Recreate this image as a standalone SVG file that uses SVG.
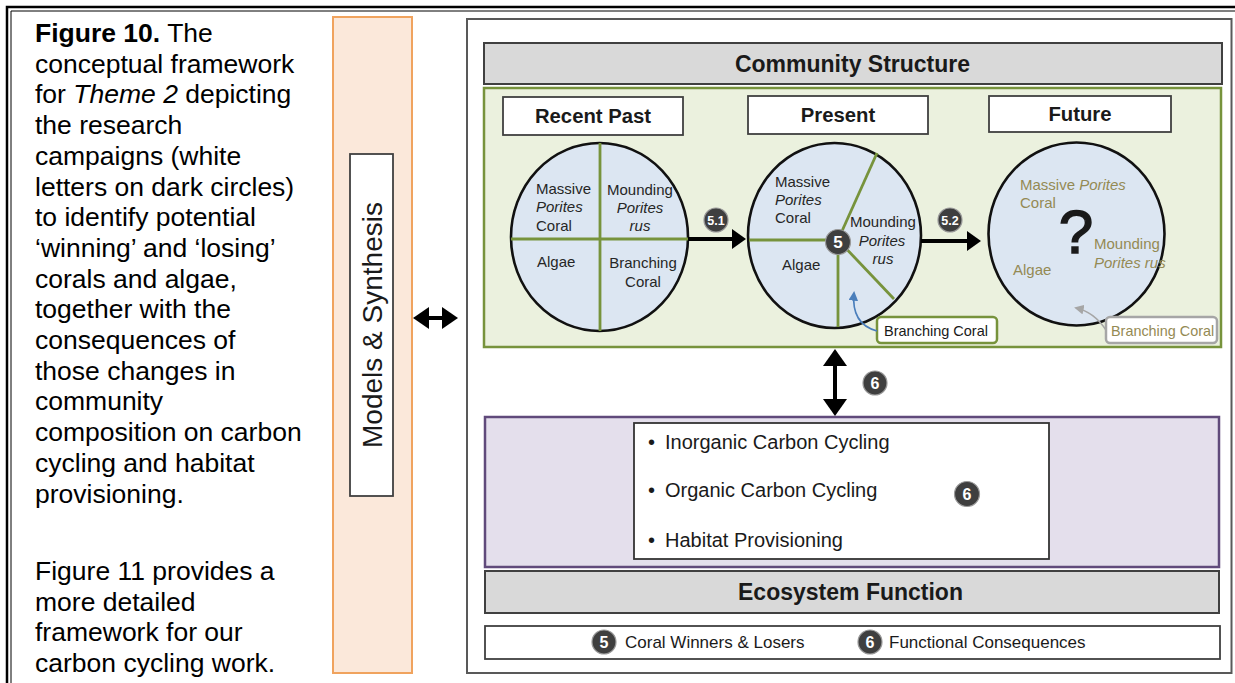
<svg xmlns="http://www.w3.org/2000/svg" width="1235" height="683" viewBox="0 0 1235 683">
<defs>
<style>
text{font-family:"Liberation Sans",Arial,sans-serif;}
.cap{font-size:26.5px;fill:#000;}
.hdr{fill:#d9d9d9;stroke:#404040;stroke-width:2;}
.hdrt{font-size:23px;font-weight:bold;fill:#1a1a1a;text-anchor:middle;}
.tbox{fill:#fff;stroke:#404040;stroke-width:1.8;}
.tboxt{font-size:20.3px;font-weight:bold;fill:#1a1a1a;text-anchor:middle;}
.circ{fill:#dce6f2;stroke:#111;stroke-width:2.6;}
.gl{stroke:#77933c;stroke-width:2.8;fill:none;}
.ct{font-size:15px;fill:#262626;}
.ol{font-size:15px;fill:#948a54;}
.it{font-style:italic;}
.mid{text-anchor:middle;}
.bd{fill:#3f3f3f;stroke:#9a9a9a;stroke-width:1.2;}
.bdt{font-weight:bold;fill:#fff;text-anchor:middle;}
.blk{fill:#000;stroke:none;}
.shaft{stroke:#000;stroke-width:4;fill:none;}
.bul{font-size:20px;fill:#1a1a1a;}
.leg{font-size:17px;fill:#1a1a1a;}
</style>
<marker id="ahb" viewBox="0 0 10 10" refX="8" refY="5" markerWidth="6" markerHeight="6" orient="auto">
<path d="M0,0 L10,5 L0,10 z" fill="#4a7ebb"/>
</marker>
<marker id="ahg" viewBox="0 0 10 10" refX="8" refY="5" markerWidth="6" markerHeight="6" orient="auto">
<path d="M0,0 L10,5 L0,10 z" fill="#a6a6a6"/>
</marker>
</defs>
<rect x="0" y="0" width="1235" height="683" fill="#fff"/>
<g id="page-border" fill="none" stroke="#000">
<path d="M7,683 V7 H1235" stroke-width="2.5"/>
<path d="M11,683 V11 H1235" stroke-width="1"/>
</g>
<g id="caption">
<text class="cap" x="35" y="42"><tspan font-weight="bold">Figure 10.</tspan><tspan dx="7">The</tspan></text>
<text class="cap" x="35" y="72.7">conceptual framework</text>
<text class="cap" x="35" y="103.4">for <tspan class="it">Theme 2</tspan> depicting</text>
<text class="cap" x="35" y="134.1">the research</text>
<text class="cap" x="35" y="164.8">campaigns (white</text>
<text class="cap" x="35" y="195.5">letters on dark circles)</text>
<text class="cap" x="35" y="226.2">to identify potential</text>
<text class="cap" x="35" y="256.9">‘winning’ and ‘losing’</text>
<text class="cap" x="35" y="287.6">corals and algae,</text>
<text class="cap" x="35" y="318.3">together with the</text>
<text class="cap" x="35" y="349">consequences of</text>
<text class="cap" x="35" y="379.7">those changes in</text>
<text class="cap" x="35" y="410.4">community</text>
<text class="cap" x="35" y="441.1">composition on carbon</text>
<text class="cap" x="35" y="471.8">cycling and habitat</text>
<text class="cap" x="35" y="502.5">provisioning.</text>
<text class="cap" x="35" y="580">Figure 11 provides a</text>
<text class="cap" x="35" y="610.7">more detailed</text>
<text class="cap" x="35" y="641.4">framework for our</text>
<text class="cap" x="35" y="672">carbon cycling work.</text>
</g>
<g id="models-synthesis">
<rect x="333" y="17" width="79" height="656" fill="#fbe8da" stroke="#f0a35e" stroke-width="2"/>
<rect x="350" y="154" width="43" height="342" fill="#fff" stroke="#404040" stroke-width="1.8"/>
<text x="382" y="325" font-size="28" fill="#1a1a1a" text-anchor="middle" transform="rotate(-90 382 325)">Models &amp; Synthesis</text>
</g>
<g id="frame">
<rect x="467" y="19" width="764.5" height="654" fill="#fff" stroke="#595959" stroke-width="2"/>
</g>
<g id="community-structure">
<rect class="hdr" x="484" y="43" width="738" height="41"/>
<text class="hdrt" x="852.5" y="72">Community Structure</text>
</g>
<g id="community-panel">
<rect x="484" y="88" width="737" height="259" fill="#ebf1de" stroke="#77933c" stroke-width="2.5"/>
</g>
<g id="recent-past">
<rect class="tbox" x="503" y="97" width="180" height="38"/>
<text class="tboxt" x="593" y="123">Recent Past</text>
<ellipse class="circ" cx="599.5" cy="237" rx="88.5" ry="94"/>
<line class="gl" x1="600" y1="143" x2="600" y2="331"/>
<line class="gl" x1="511" y1="239" x2="688" y2="239"/>
<text class="ct" x="536" y="194">Massive</text>
<text class="ct it" x="536" y="212">Porites</text>
<text class="ct" x="536" y="231">Coral</text>
<text class="ct" x="607" y="195">Mounding</text>
<text class="ct it mid" x="640" y="213">Porites</text>
<text class="ct it mid" x="640" y="231">rus</text>
<text class="ct" x="537" y="267">Algae</text>
<text class="ct mid" x="643" y="268">Branching</text>
<text class="ct mid" x="643" y="287">Coral</text>
</g>
<g id="present">
<rect class="tbox" x="748" y="96" width="180" height="38"/>
<text class="tboxt" x="838" y="122">Present</text>
<ellipse class="circ" cx="834.5" cy="235.5" rx="86.5" ry="92.5"/>
<line class="gl" x1="749" y1="240" x2="838" y2="240"/>
<line class="gl" x1="838" y1="240" x2="877" y2="153"/>
<line class="gl" x1="838" y1="240" x2="838" y2="327"/>
<line class="gl" x1="838" y1="240" x2="894" y2="299"/>
<text class="ct" x="775" y="187">Massive</text>
<text class="ct it" x="775" y="205">Porites</text>
<text class="ct" x="775" y="223">Coral</text>
<text class="ct" x="850" y="227">Mounding</text>
<text class="ct it mid" x="882" y="246">Porites</text>
<text class="ct it mid" x="883" y="264">rus</text>
<text class="ct" x="782" y="270">Algae</text>
<circle class="bd" cx="838" cy="242" r="12.5"/>
<text class="bdt" x="838" y="248" font-size="17">5</text>
<rect x="877" y="317" width="120" height="26" rx="4" fill="#fff" stroke="#77933c" stroke-width="2.5"/>
<text x="884" y="336" font-size="14.5" fill="#1a1a1a">Branching Coral</text>
</g>
<g id="future">
<rect class="tbox" x="989" y="96" width="182" height="36"/>
<text class="tboxt" x="1080" y="121">Future</text>
<ellipse class="circ" cx="1076.5" cy="234" rx="88" ry="91.5"/>
<text class="ol" x="1020" y="190">Massive <tspan class="it">Porites</tspan></text>
<text class="ol" x="1020" y="208">Coral</text>
<text x="1076" y="253" font-size="62" fill="#1a1a1a" stroke="#1a1a1a" stroke-width="1.5" text-anchor="middle">?</text>
<text class="ol" x="1094" y="249">Mounding</text>
<text class="ol it" x="1094" y="268" font-size="14.3">Porites rus</text>
<text class="ol" x="1013" y="275">Algae</text>
<rect x="1106" y="317" width="111" height="26" rx="4" fill="#fff" stroke="#a6a6a6" stroke-width="2.5"/>
<text x="1111" y="336" font-size="14.4" fill="#948a54">Branching Coral</text>
</g>
<g id="ecosystem-panel">
<rect x="485" y="417" width="734" height="150" fill="#e4dfec" stroke="#604a7b" stroke-width="2.5"/>
<rect x="634" y="423" width="415" height="136" fill="#fff" stroke="#333" stroke-width="1.8"/>
<text class="bul" x="648" y="449">•</text>
<text class="bul" x="665" y="449">Inorganic Carbon Cycling</text>
<text class="bul" x="648" y="497">•</text>
<text class="bul" x="665" y="497">Organic Carbon Cycling</text>
<text class="bul" x="648" y="547">•</text>
<text class="bul" x="665" y="547">Habitat Provisioning</text>
<circle class="bd" cx="967" cy="494" r="12.5"/>
<text class="bdt" x="967" y="500" font-size="16">6</text>
</g>
<g id="ecosystem-function">
<rect class="hdr" x="485" y="571" width="734" height="42"/>
<text class="hdrt" x="850.5" y="600">Ecosystem Function</text>
</g>
<g id="legend">
<rect x="485" y="626" width="735" height="33" fill="#fff" stroke="#404040" stroke-width="1.8"/>
<circle class="bd" cx="604" cy="642" r="12"/>
<text class="bdt" x="604" y="648" font-size="16">5</text>
<text class="leg" x="625" y="648">Coral Winners &amp; Losers</text>
<circle class="bd" cx="870" cy="642" r="12"/>
<text class="bdt" x="870" y="648" font-size="16">6</text>
<text class="leg" x="889" y="648">Functional Consequences</text>
</g>
<g id="connectors">
<line class="shaft" x1="427" y1="318" x2="444" y2="318"/>
<polygon class="blk" points="413,318 429,307 429,329"/>
<polygon class="blk" points="458,318 442,307 442,329"/>
<line class="shaft" x1="688" y1="239" x2="734" y2="239"/>
<polygon class="blk" points="732,229 746,239 732,249"/>
<circle class="bd" cx="716" cy="220" r="12"/>
<text class="bdt" x="716" y="225" font-size="12.5">5.1</text>
<line class="shaft" x1="921" y1="241" x2="969" y2="241"/>
<polygon class="blk" points="967,231 981,241 967,251"/>
<circle class="bd" cx="950" cy="220" r="12"/>
<text class="bdt" x="950" y="225" font-size="12.5">5.2</text>
<line class="shaft" x1="835" y1="364" x2="835" y2="401"/>
<polygon class="blk" points="835,349 823,366 847,366"/>
<polygon class="blk" points="835,416 823,399 847,399"/>
<circle class="bd" cx="875" cy="383" r="12"/>
<text class="bdt" x="875" y="389" font-size="16">6</text>
<path d="M877,331 Q851,324 854,293" fill="none" stroke="#4a7ebb" stroke-width="1.6" marker-end="url(#ahb)"/>
<path d="M1106,330 Q1094,312 1076,308" fill="none" stroke="#a6a6a6" stroke-width="1.6" marker-end="url(#ahg)"/>
</g>
</svg>
